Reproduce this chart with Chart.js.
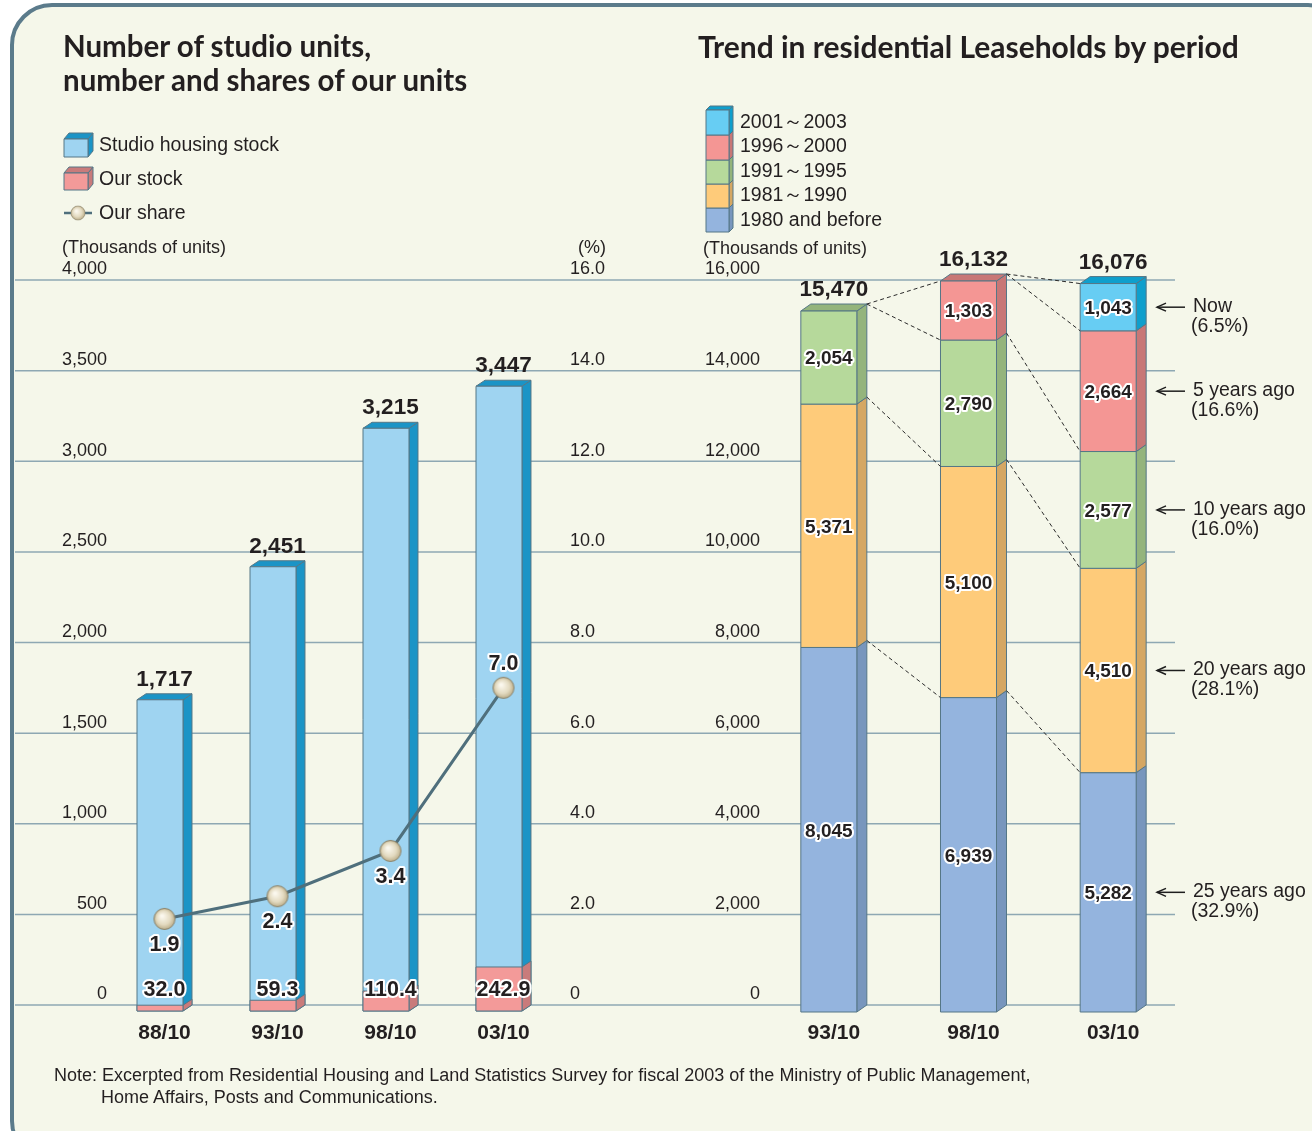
<!DOCTYPE html>
<html><head><meta charset="utf-8">
<script src="https://cdn.jsdelivr.net/npm/chart.js@4.4.0/dist/chart.umd.min.js"></script>
<style>
html,body{margin:0;padding:0;background:#fff;width:1312px;height:1131px;overflow:hidden;font-family:"Liberation Sans",Arial,sans-serif;color:#231f20;}
#frame{position:absolute;left:10px;top:3px;width:1340px;height:1160px;box-sizing:border-box;border:4px solid #5b7b8b;border-radius:42px;background:#f5f7ea;}
.t{position:absolute;white-space:nowrap;line-height:1;}
.title{font-family:Lato,"Open Sans",sans-serif;font-weight:700;font-size:30px;color:#231f20;}
.title.l{font-size:29.5px;}
.lg{font-size:19.5px;}
.unit{font-size:18px;}
.note{font-size:18px;}
canvas{position:absolute;top:0;}
</style></head>
<body>
<div id="frame"></div>
<canvas id="c1" width="640" height="1131" style="left:0"></canvas>
<canvas id="c2" width="672" height="1131" style="left:640px"></canvas>

<div class="t title l" style="left:63px;top:31px">Number of studio units,</div>
<div class="t title l" style="left:63px;top:65px">number and shares of our units</div>
<div class="t title" style="left:698px;top:30.5px">Trend in residential Leaseholds by period</div>

<div class="t lg" style="left:99px;top:135.4px">Studio housing stock</div>
<div class="t lg" style="left:99px;top:169.4px">Our stock</div>
<div class="t lg" style="left:99px;top:203.4px">Our share</div>

<div class="t lg" style="left:740px;top:112.4px">2001～2003</div>
<div class="t lg" style="left:740px;top:136.4px">1996～2000</div>
<div class="t lg" style="left:740px;top:161.4px">1991～1995</div>
<div class="t lg" style="left:740px;top:185.4px">1981～1990</div>
<div class="t lg" style="left:740px;top:210.4px">1980 and before</div>

<div class="t unit" style="left:62px;top:238.2px">(Thousands of units)</div>
<div class="t unit" style="left:578px;top:238.2px">(%)</div>
<div class="t unit" style="left:703px;top:239.2px">(Thousands of units)</div>

<div class="t note" style="left:54px;top:1066.2px">Note: Excerpted from Residential Housing and Land Statistics Survey for fiscal 2003 of the Ministry of Public Management,</div>
<div class="t note" style="left:101px;top:1088.2px">Home Affairs, Posts and Communications.</div>

<script>
// ---------- data ----------
const periods1 = ['88/10', '93/10', '98/10', '03/10'];
const studioStock = [1717, 2451, 3215, 3447];
const ourStock = [32.0, 59.3, 110.4, 242.9];
const ourShare = [1.9, 2.4, 3.4, 7.0];
const unitTicks = [0, 500, 1000, 1500, 2000, 2500, 3000, 3500, 4000];
const shareTicks = [0, 2, 4, 6, 8, 10, 12, 14, 16];

const periods2 = ['93/10', '98/10', '03/10'];
const built1980AndBefore = [8045, 6939, 5282];
const built1981to1990 = [5371, 5100, 4510];
const built1991to1995 = [2054, 2790, 2577];
const built1996to2000 = [0, 1303, 2664];
const built2001to2003 = [0, 0, 1043];
const periodTicks = [0, 2000, 4000, 6000, 8000, 10000, 12000, 14000, 16000];
const ageLabels = ['25 years ago', '20 years ago', '10 years ago', '5 years ago', 'Now'];
const ageShares = ['(32.9%)', '(28.1%)', '(16.0%)', '(16.6%)', '(6.5%)'];

// ---------- styles ----------
const C = {
  studio: {front: '#9fd4f1', side: '#1b94c6', top: '#1b94c6'},
  our:    {front: '#f39a99', side: '#c97b7b', top: '#c97b7b'},
  s1980:  {front: '#94b4de', side: '#7896bd', top: '#7896bd'},
  s1981:  {front: '#fecb7a', side: '#d5a763', top: '#d5a763'},
  s1991:  {front: '#b6d99b', side: '#94b47c', top: '#94b47c'},
  s1996:  {front: '#f49694', side: '#c87776', top: '#c87776'},
  s2001:  {front: '#67cdf3', side: '#0f9fcc', top: '#0f9fcc'},
  stroke: '#557786',
  grid: '#8ea8b3',
  text: '#231f20'
};
const FONT = '"Liberation Sans", Arial, sans-serif';
const fmtInt = v => v.toLocaleString('en-US');

function box(ctx, xl, yT, yB, w, dx, dy, col, drawTop) {
  const xr = xl + w;
  ctx.save();
  ctx.lineWidth = 1; ctx.strokeStyle = C.stroke; ctx.lineJoin = 'round';
  ctx.beginPath();
  ctx.moveTo(xr, yT); ctx.lineTo(xr + dx, yT - dy); ctx.lineTo(xr + dx, yB - dy); ctx.lineTo(xr, yB); ctx.closePath();
  ctx.fillStyle = col.side; ctx.fill(); ctx.stroke();
  if (drawTop) {
    ctx.beginPath();
    ctx.moveTo(xl, yT); ctx.lineTo(xl + dx, yT - dy); ctx.lineTo(xr + dx, yT - dy); ctx.lineTo(xr, yT); ctx.closePath();
    ctx.fillStyle = col.top; ctx.fill(); ctx.stroke();
  }
  ctx.fillStyle = col.front;
  ctx.fillRect(xl, yT, w, yB - yT);
  ctx.strokeRect(xl, yT, w, yB - yT);
  ctx.restore();
}
function haloText(ctx, txt, x, yc, size) {
  ctx.save();
  ctx.font = 'bold ' + size + 'px ' + FONT;
  ctx.textAlign = 'center'; ctx.textBaseline = 'alphabetic';
  const yb = yc + size * 0.36;
  ctx.lineJoin = 'round'; ctx.lineWidth = 4; ctx.strokeStyle = '#ffffff';
  ctx.strokeText(txt, x, yb);
  ctx.fillStyle = C.text; ctx.fillText(txt, x, yb);
  ctx.restore();
}
function plainText(ctx, txt, x, yc, size, align, bold) {
  ctx.save();
  ctx.font = (bold ? 'bold ' : '') + size + 'px ' + FONT;
  ctx.textAlign = align; ctx.textBaseline = 'alphabetic';
  ctx.fillStyle = C.text; ctx.fillText(txt, x, yc + size * 0.36);
  ctx.restore();
}

// point image
const pt = document.createElement('canvas'); pt.width = 24; pt.height = 24;
(function () {
  const g = pt.getContext('2d');
  const grd = g.createRadialGradient(9.5, 9, 1, 12, 12, 11);
  grd.addColorStop(0, '#fbf8ee'); grd.addColorStop(0.6, '#e3dac0'); grd.addColorStop(1, '#b9ab86');
  g.fillStyle = grd; g.beginPath(); g.arc(12, 12, 10.5, 0, Math.PI * 2); g.fill();
  g.strokeStyle = '#8a8168'; g.lineWidth = 1; g.stroke();
})();

// ---------- left chart ----------
const L = {dx: 9, dy: 6};
const leftPlugin = {
  id: 'leftDeco',
  beforeDatasetsDraw(chart) {
    const ctx = chart.ctx, y = chart.scales.y, y1 = chart.scales.y1;
    ctx.save();
    ctx.strokeStyle = C.grid; ctx.lineWidth = 1.5;
    unitTicks.forEach(v => {
      const py = y.getPixelForValue(v);
      ctx.beginPath(); ctx.moveTo(15, py); ctx.lineTo(640, py); ctx.stroke();
      plainText(ctx, fmtInt(v), 107, py - 12, 18, 'right', false);
    });
    shareTicks.forEach(v => {
      const py = y1.getPixelForValue(v);
      plainText(ctx, v === 0 ? '0' : v.toFixed(1), 570, py - 12, 18, 'left', false);
    });
    const mStudio = chart.getDatasetMeta(2), mOur = chart.getDatasetMeta(1);
    mStudio.data.forEach(el => {
      const xl = el.x - el.width / 2 - L.dx / 2;
      box(ctx, xl, el.y + L.dy, el.base + L.dy, el.width, L.dx, L.dy, C.studio, true);
    });
    mOur.data.forEach(el => {
      const xl = el.x - el.width / 2 - L.dx / 2;
      box(ctx, xl, el.y + L.dy, el.base + L.dy, el.width, L.dx, L.dy, C.our, false);
    });
    ctx.restore();
  },
  beforeDatasetDraw(chart, args) {
    if (args.meta.type === 'bar') return false;
  },
  afterDatasetsDraw(chart) {
    const ctx = chart.ctx;
    const mStudio = chart.getDatasetMeta(2), mOur = chart.getDatasetMeta(1), mShare = chart.getDatasetMeta(0);
    mStudio.data.forEach((el, i) => {
      plainText(ctx, fmtInt(studioStock[i]), el.x, el.y - 16, 22.5, 'center', true);
      plainText(ctx, periods1[i], el.x, 1031, 21, 'center', true);
    });
    mOur.data.forEach((el, i) => {
      haloText(ctx, ourStock[i].toFixed(1), el.x, el.base - 17, 21.5);
    });
    mShare.data.forEach((p, i) => {
      const above = i === ourShare.length - 1;
      haloText(ctx, ourShare[i].toFixed(1), p.x, above ? p.y - 26 : p.y + 24, 21.5);
    });
    // legend swatches
    box(ctx, 64, 139, 157, 24, 5, 6, C.studio, true);
    box(ctx, 64, 173, 190, 24, 5, 6, C.our, true);
    ctx.save();
    ctx.strokeStyle = '#4f6f7c'; ctx.lineWidth = 2.5;
    ctx.beginPath(); ctx.moveTo(64, 213); ctx.lineTo(92, 213); ctx.stroke();
    ctx.drawImage(pt, 78 - 8, 213 - 8, 16, 16);
    ctx.restore();
  }
};

new Chart(document.getElementById('c1'), {
  type: 'bar',
  data: {
    labels: periods1,
    datasets: [
      {type: 'line', label: 'Our share', data: ourShare, yAxisID: 'y1', borderColor: '#4f6f7c', borderWidth: 3,
       pointStyle: pt, pointRadius: 11, tension: 0, order: 0},
      {label: 'Our stock', data: ourStock, yAxisID: 'y', grouped: false, order: 1,
       backgroundColor: 'rgba(0,0,0,0)', barPercentage: 0.407, categoryPercentage: 1},
      {label: 'Studio housing stock', data: studioStock, yAxisID: 'y', grouped: false, order: 2,
       backgroundColor: 'rgba(0,0,0,0)', barPercentage: 0.407, categoryPercentage: 1}
    ]
  },
  options: {
    responsive: false, animation: false,
    layout: {padding: {left: 108, right: 80, top: 280, bottom: 126}},
    plugins: {legend: {display: false}, tooltip: {enabled: false}},
    scales: {
      x: {display: false, offset: true},
      y: {display: false, min: 0, max: 4000},
      y1: {display: false, min: 0, max: 16, position: 'right'}
    }
  },
  plugins: [leftPlugin]
});

// ---------- right chart ----------
const R = {dx: 10, dy: 7, ox: 640};
const segStyles = [C.s1980, C.s1981, C.s1991, C.s1996, C.s2001];
const segData = [built1980AndBefore, built1981to1990, built1991to1995, built1996to2000, built2001to2003];
const rightPlugin = {
  id: 'rightDeco',
  beforeDatasetsDraw(chart) {
    const ctx = chart.ctx, y = chart.scales.y;
    ctx.save();
    ctx.strokeStyle = C.grid; ctx.lineWidth = 1.5;
    periodTicks.forEach(v => {
      const py = y.getPixelForValue(v);
      ctx.beginPath(); ctx.moveTo(0, py); ctx.lineTo(1175 - R.ox, py); ctx.stroke();
      plainText(ctx, fmtInt(v), 760 - R.ox, py - 12, 18, 'right', false);
    });
    const metas = segData.map((_, d) => chart.getDatasetMeta(d));
    const nCat = periods2.length;
    const geo = [];
    for (let i = 0; i < nCat; i++) {
      const nz = [];
      segData.forEach((arr, d) => { if (arr[i] > 0) nz.push(d); });
      const topD = nz[nz.length - 1];
      const tops = [];
      let xl = 0, w = 0;
      nz.forEach(d => {
        const el = metas[d].data[i];
        w = el.width; xl = el.x - el.width / 2 - R.dx / 2;
        box(ctx, xl, el.y + R.dy, el.base + R.dy, el.width, R.dx, R.dy, segStyles[d], d === topD);
        tops.push(el.y);
      });
      geo.push({xl, w, tops});
    }
    // dashed connectors between consecutive periods
    ctx.strokeStyle = '#2a2a2a'; ctx.lineWidth = 1; ctx.setLineDash([4, 3]);
    for (let i = 0; i < nCat - 1; i++) {
      const a = geo[i], b = geo[i + 1];
      const xa = a.xl + a.w + R.dx, xb = b.xl;
      const pairs = a.tops.map((t, k) => [t, b.tops[k]]);
      pairs.push([a.tops[a.tops.length - 1], b.tops[b.tops.length - 1]]);
      pairs.forEach(([ya, yb]) => {
        ctx.beginPath(); ctx.moveTo(xa, ya); ctx.lineTo(xb, yb + R.dy); ctx.stroke();
      });
    }
    ctx.setLineDash([]);
    ctx.restore();
    return false;
  },
  afterDraw(chart) {
    const ctx = chart.ctx;
    const metas = segData.map((_, d) => chart.getDatasetMeta(d));
    for (let i = 0; i < periods2.length; i++) {
      let total = 0, topY = null, xc = 0;
      segData.forEach((arr, d) => {
        const el = metas[d].data[i];
        xc = el.x;
        if (arr[i] > 0) {
          total += arr[i]; topY = el.y;
          const yc = (el.y + el.base) / 2 + R.dy;
          haloText(ctx, fmtInt(arr[i]), el.x - R.dx / 2, yc, 19);
          if (i === periods2.length - 1) {
            const ax = 1157 - R.ox;
            ctx.save();
            ctx.strokeStyle = '#1e1e1e'; ctx.lineWidth = 1.5;
            ctx.beginPath(); ctx.moveTo(ax, yc); ctx.lineTo(ax + 28, yc); ctx.stroke();
            ctx.beginPath(); ctx.moveTo(ax + 9, yc - 4); ctx.lineTo(ax, yc); ctx.lineTo(ax + 9, yc + 4); ctx.stroke();
            ctx.restore();
            plainText(ctx, ageLabels[d], 1193 - R.ox, yc - 2, 19.5, 'left', false);
            plainText(ctx, ageShares[d], 1191 - R.ox, yc + 18, 19.5, 'left', false);
          }
        }
      });
      plainText(ctx, fmtInt(total), xc, topY - 16, 22.5, 'center', true);
      plainText(ctx, periods2[i], xc, 1031, 21, 'center', true);
    }
    // legend column
    const lx = 706 - R.ox;
    const rows = [[208, 232, C.s1980], [184, 208, C.s1981], [160, 184, C.s1991], [135, 160, C.s1996], [110, 135, C.s2001]];
    rows.forEach((r, k) => box(ctx, lx, r[0], r[1], 23, 4, 4, r[2], k === rows.length - 1));
  }
};

new Chart(document.getElementById('c2'), {
  type: 'bar',
  data: {
    labels: periods2,
    datasets: [
      {label: '1980 and before', data: built1980AndBefore},
      {label: '1981～1990', data: built1981to1990},
      {label: '1991～1995', data: built1991to1995},
      {label: '1996～2000', data: built1996to2000},
      {label: '2001～2003', data: built2001to2003}
    ].map(ds => Object.assign(ds, {backgroundColor: 'rgba(0,0,0,0)', barPercentage: 0.401, categoryPercentage: 1}))
  },
  options: {
    responsive: false, animation: false,
    layout: {padding: {left: 124, right: 129, top: 280, bottom: 126}},
    plugins: {legend: {display: false}, tooltip: {enabled: false}},
    scales: {
      x: {display: false, stacked: true, offset: true},
      y: {display: false, stacked: true, min: 0, max: 16000}
    }
  },
  plugins: [rightPlugin]
});
</script>
</body></html>
